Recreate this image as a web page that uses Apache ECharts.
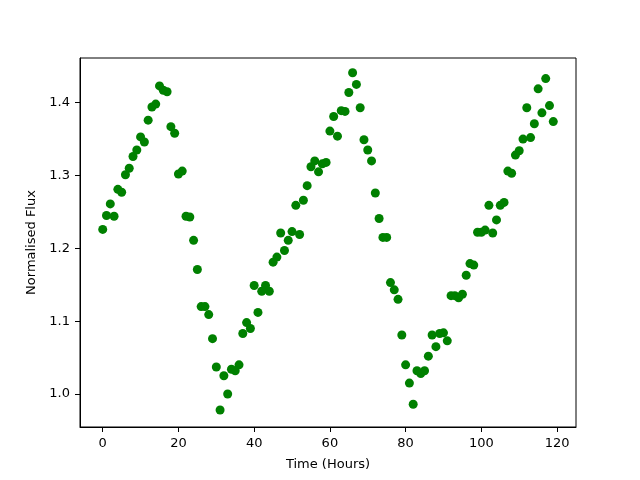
<!DOCTYPE html>
<html>
<head>
<meta charset="utf-8">
<script src="https://cdn.jsdelivr.net/npm/echarts@6/dist/echarts.min.js"></script>
<style>
  html, body { margin: 0; padding: 0; background: #fff; }
  #chart { width: 640px; height: 480px; }
</style>
</head>
<body>
<div id="chart"></div>
<script>
// hours 0..119, one reading each
const hours = Array.from({ length: 120 }, (_, i) => i)

const flux = [
  1.226, 1.245, 1.261, 1.244, 1.281, 1.277, 1.301, 1.310, 1.326, 1.335,
  1.353, 1.346, 1.376, 1.394, 1.398, 1.423, 1.417, 1.415, 1.367, 1.358,
  1.302, 1.306, 1.244, 1.243, 1.211, 1.171, 1.120, 1.120, 1.109, 1.076,
  1.037, 0.978, 1.025, 1.000, 1.034, 1.032, 1.040, 1.083, 1.098, 1.090,
  1.149, 1.112, 1.141, 1.149, 1.141, 1.181, 1.188, 1.221, 1.197, 1.211,
  1.223, 1.259, 1.219, 1.266, 1.286, 1.312, 1.320, 1.305, 1.316, 1.318,
  1.361, 1.381, 1.354, 1.389, 1.388, 1.414, 1.441, 1.425, 1.393, 1.349,
  1.335, 1.320, 1.276, 1.241, 1.215, 1.215, 1.153, 1.143, 1.130, 1.081,
  1.040, 1.015, 0.986, 1.032, 1.028, 1.032, 1.052, 1.081, 1.065, 1.083,
  1.084, 1.073, 1.135, 1.135, 1.132, 1.137, 1.163, 1.179, 1.177, 1.222,
  1.222, 1.225, 1.259, 1.221, 1.239, 1.259, 1.263, 1.306, 1.303, 1.328,
  1.334, 1.350, 1.393, 1.352, 1.371, 1.419, 1.386, 1.433, 1.396, 1.374
]

const xTicks = [0, 20, 40, 60, 80, 100, 120]
const yTicks = [1.0, 1.1, 1.2, 1.3, 1.4]

const font = 'DejaVu Sans'

const chart = echarts.init(document.getElementById('chart'))

const option = {
  animation: false,
  textStyle: { fontFamily: font },
  grid: {
    left: 80, right: 64, top: 58, bottom: 53,
    show: true, borderColor: '#000', borderWidth: 1
  },
  xAxis: {
    type: 'value',
    min: -6.0,
    max: 125.0,
    name: 'Time (Hours)',
    nameLocation: 'middle',
    nameGap: 31,
    nameTextStyle: { color: '#000', fontSize: 13, fontFamily: font },
    axisLine: { show: true, onZero: false, lineStyle: { color: '#000' } },
    axisTick: { show: true, length: 5, customValues: xTicks, lineStyle: { color: '#000' } },
    axisLabel: { customValues: xTicks, color: '#000', fontSize: 13, margin: 10, fontFamily: font },
    splitLine: { show: false }
  },
  yAxis: {
    type: 'value',
    min: 0.9547,
    max: 1.4613,
    name: 'Normalised Flux',
    nameLocation: 'middle',
    nameGap: 37,
    nameTextStyle: { color: '#000', fontSize: 13, fontFamily: font },
    axisLine: { show: true, onZero: false, lineStyle: { color: '#000' } },
    axisTick: { show: true, length: 5, customValues: yTicks, lineStyle: { color: '#000' } },
    axisLabel: {
      customValues: yTicks, color: '#000', fontSize: 13, margin: 10, fontFamily: font,
      formatter: v => v.toFixed(1)
    },
    splitLine: { show: false }
  },
  series: [{
    type: 'scatter',
    data: hours.map((h, i) => [h, flux[i]]),
    symbol: 'circle',
    symbolSize: 9,
    itemStyle: { color: '#008000', opacity: 1 }
  }]
}

chart.setOption(option)
</script>
</body>
</html>
